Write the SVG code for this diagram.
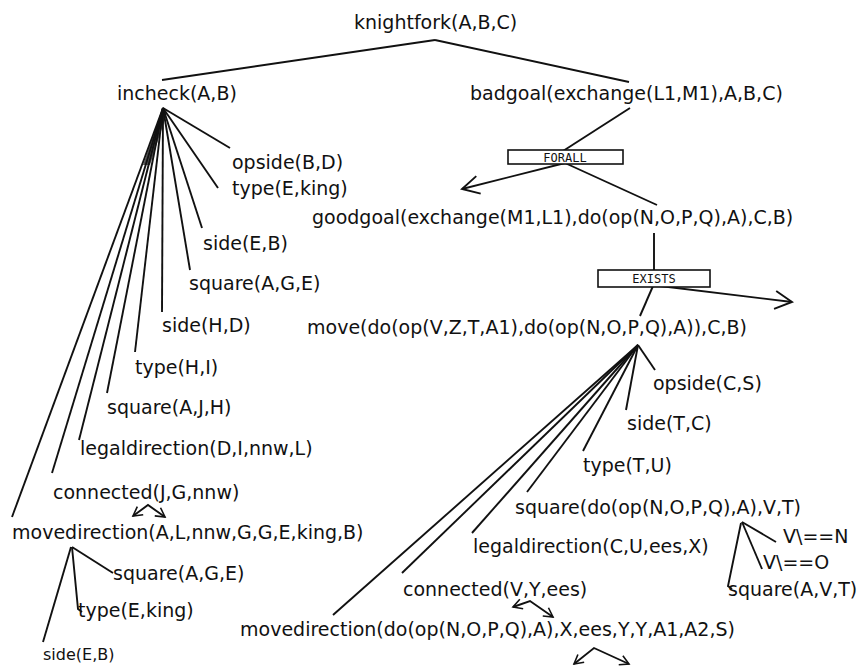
<svg xmlns="http://www.w3.org/2000/svg" width="865" height="666" viewBox="0 0 865 666">
<style>
text{font-family:"DejaVu Sans","Liberation Sans",sans-serif;font-size:19px;fill:#111}
.sm{font-size:16px}
.q{font-family:"DejaVu Sans Mono","Liberation Mono",monospace;font-size:12px;text-anchor:middle}
.c line,.c path,.c polyline{stroke:#111;stroke-width:1.9;fill:none}
.box{fill:#fff;stroke:#111;stroke-width:1.6}
</style>
<defs>
<marker id="big" markerUnits="userSpaceOnUse" markerWidth="20" markerHeight="20" viewBox="0 0 20 20" refX="18" refY="10" orient="auto"><path d="M1,1 L18,10 L1,19" fill="none" stroke="#111" stroke-width="1.9"/></marker>
<marker id="sm" markerUnits="userSpaceOnUse" markerWidth="12" markerHeight="12" viewBox="0 0 12 12" refX="10" refY="6" orient="auto-start-reverse"><path d="M1,1 L10,6 L1,11" fill="none" stroke="#111" stroke-width="1.6"/></marker>
</defs>
<rect width="865" height="666" fill="#fff"/>
<g class="c" id="connectors">
<line x1="435" y1="40" x2="162" y2="80"/>
<line x1="435" y1="40" x2="629" y2="82"/>
<polygon points="163,107 143,165 150,165 167,113" fill="#555" stroke="none"/>
<line x1="163" y1="108" x2="230" y2="148"/>
<line x1="163" y1="108" x2="218" y2="188"/>
<line x1="163" y1="108" x2="202" y2="228"/>
<line x1="163" y1="108" x2="190" y2="270"/>
<line x1="163" y1="108" x2="162" y2="312"/>
<line x1="163" y1="108" x2="135" y2="352"/>
<line x1="163" y1="108" x2="107" y2="393"/>
<line x1="163" y1="108" x2="79" y2="440"/>
<line x1="163" y1="108" x2="52" y2="473"/>
<line x1="163" y1="108" x2="12" y2="517"/>
<line x1="72" y1="547" x2="113" y2="573"/>
<polyline points="72,547 78,609 82,612"/>
<line x1="71" y1="547" x2="43" y2="642"/>
<polyline points="133,516 148,505 165,517" marker-start="url(#sm)" marker-end="url(#sm)"/>
<line x1="630" y1="108" x2="563" y2="151"/>
<line x1="565" y1="163" x2="462" y2="189" marker-end="url(#big)"/>
<line x1="565" y1="163" x2="657" y2="205"/>
<line x1="654" y1="233" x2="654" y2="271"/>
<line x1="653" y1="286" x2="640" y2="316"/>
<line x1="660" y1="286" x2="792" y2="302" marker-end="url(#big)"/>
<line x1="638" y1="345" x2="655" y2="370"/>
<line x1="638" y1="345" x2="626" y2="410"/>
<line x1="638" y1="345" x2="583" y2="451"/>
<line x1="638" y1="345" x2="527" y2="492"/>
<line x1="638" y1="345" x2="472" y2="533"/>
<line x1="638" y1="345" x2="402" y2="573"/>
<line x1="638" y1="345" x2="333" y2="615"/>
<line x1="742" y1="522" x2="776" y2="542"/>
<line x1="742" y1="522" x2="762" y2="569"/>
<polyline points="741,523 728,586 732,589"/>
<polyline points="513,607 530,601 553,617" marker-start="url(#sm)" marker-end="url(#sm)"/>
<polyline points="574,664 594,648 629,664" marker-start="url(#sm)" marker-end="url(#sm)"/>
</g>
<g id="n-knightfork"><text x="354" y="29">knightfork(A,B,C)</text></g>
<g id="n-incheck"><text x="117" y="100">incheck(A,B)</text></g>
<g id="n-badgoal"><text x="470" y="100">badgoal(exchange(L1,M1),A,B,C)</text></g>
<g id="n-forall"><rect class="box" x="508" y="150" width="115" height="14"/><text class="q" x="565" y="161.5">FORALL</text></g>
<g id="n-goodgoal"><text x="312" y="224">goodgoal(exchange(M1,L1),do(op(N,O,P,Q),A),C,B)</text></g>
<g id="n-exists"><rect class="box" x="598" y="270" width="112" height="17"/><text class="q" x="654" y="283">EXISTS</text></g>
<g id="n-move"><text x="307" y="334">move(do(op(V,Z,T,A1),do(op(N,O,P,Q),A)),C,B)</text></g>
<g id="n-opside1"><text x="232" y="169">opside(B,D)</text></g>
<g id="n-type1"><text x="232" y="195">type(E,king)</text></g>
<g id="n-side1"><text x="203" y="250">side(E,B)</text></g>
<g id="n-square1"><text x="189" y="290">square(A,G,E)</text></g>
<g id="n-side2"><text x="162" y="332">side(H,D)</text></g>
<g id="n-type2"><text x="135" y="374">type(H,I)</text></g>
<g id="n-square2"><text x="107" y="414">square(A,J,H)</text></g>
<g id="n-legal1"><text x="80" y="455">legaldirection(D,I,nnw,L)</text></g>
<g id="n-conn1"><text x="53" y="499">connected(J,G,nnw)</text></g>
<g id="n-movedir1"><text x="12" y="539">movedirection(A,L,nnw,G,G,E,king,B)</text></g>
<g id="n-square3"><text x="113" y="580">square(A,G,E)</text></g>
<g id="n-type3"><text x="78" y="617">type(E,king)</text></g>
<g id="n-side3"><text class="sm" x="43" y="660">side(E,B)</text></g>
<g id="n-opside2"><text x="653" y="390">opside(C,S)</text></g>
<g id="n-side4"><text x="627" y="430">side(T,C)</text></g>
<g id="n-type4"><text x="583" y="472">type(T,U)</text></g>
<g id="n-square4"><text x="515" y="514">square(do(op(N,O,P,Q),A),V,T)</text></g>
<g id="n-legal2"><text x="473" y="553">legaldirection(C,U,ees,X)</text></g>
<g id="n-conn2"><text x="403" y="596">connected(V,Y,ees)</text></g>
<g id="n-movedir2"><text x="240" y="636">movedirection(do(op(N,O,P,Q),A),X,ees,Y,Y,A1,A2,S)</text></g>
<g id="n-neqN"><text x="783" y="543">V\==N</text></g>
<g id="n-neqO"><text x="763" y="569">V\==O</text></g>
<g id="n-square5"><text x="728" y="596">square(A,V,T)</text></g>
</svg>
